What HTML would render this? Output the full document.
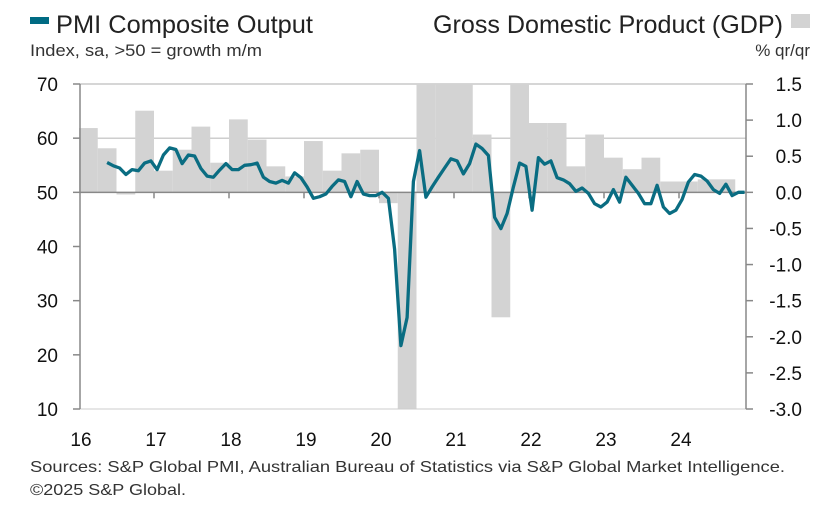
<!DOCTYPE html>
<html><head><meta charset="utf-8">
<style>
body{margin:0;background:#fff;}
svg{display:block;font-family:"Liberation Sans",sans-serif;}
</style></head>
<body>
<svg id="chart" width="818" height="506" viewBox="0 0 818 506">
  <rect x="30" y="17" width="19" height="7" fill="#006b83"/>
  <text x="56" y="33" font-size="25" fill="#222" textLength="257" lengthAdjust="spacingAndGlyphs">PMI Composite Output</text>
  <text x="30" y="56" font-size="17" fill="#333" textLength="232" lengthAdjust="spacingAndGlyphs">Index, sa, &gt;50 = growth m/m</text>
  <text x="433" y="33" font-size="25" fill="#222" textLength="350" lengthAdjust="spacingAndGlyphs">Gross Domestic Product (GDP)</text>
  <rect x="791" y="14" width="19" height="14" fill="#d3d3d3"/>
  <text x="810" y="56" font-size="17" fill="#333" text-anchor="end">% qr/qr</text>
  <g id="plot"></g>
  <text x="30" y="472" font-size="16" fill="#333" textLength="755" lengthAdjust="spacingAndGlyphs">Sources: S&amp;P Global PMI, Australian Bureau of Statistics via S&amp;P Global Market Intelligence.</text>
  <text x="30" y="495" font-size="16" fill="#333" textLength="156" lengthAdjust="spacingAndGlyphs">©2025 S&amp;P Global.</text>
</svg>
<script>
const yearLabels = ["16","17","18","19","20","21","22","23","24"];
const leftTicks = [70,60,50,40,30,20,10];
const rightTicks = ["1.5","1.0","0.5","0.0","-0.5","-1.0","-1.5","-2.0","-2.5","-3.0"];
// GDP quarterly q/q %, Q1 2016 .. Q3 2024
const gdpValues = [0.89,0.61,-0.03,1.13, 0.30,0.59,0.91,0.41, 1.01,0.73,0.36,0.22, 0.71,0.30,0.54,0.59,
  -0.15,-7.0,3.4,3.2, 1.9,0.80,-1.73,3.6, 0.96,0.96,0.36,0.80, 0.48,0.32,0.48,0.15, 0.15,0.18,0.18];
// PMI monthly, May 2016 .. Nov 2024
const pmiValues = [55.5,54.9,54.5,53.3,54.2,54.0,55.4,55.8,54.2,56.9,58.2,57.9,55.3,56.9,56.7,54.4,53.0,52.8,54.1,55.3,
  54.2,54.2,55.0,55.1,55.4,52.8,52.0,51.7,52.2,51.7,53.6,52.7,51.0,48.9,49.2,49.7,51.1,52.3,52.0,49.2,
  52.0,49.7,49.4,49.4,50.0,48.9,39.5,21.7,26.9,52.0,57.7,49.1,51.0,52.8,54.5,56.2,55.8,53.4,55.3,58.9,
  58.1,56.8,45.4,43.3,46.1,51.0,55.4,54.8,46.7,56.4,55.2,55.8,52.7,52.3,51.6,50.2,50.8,49.8,47.9,47.3,
  48.2,50.5,48.2,52.8,51.3,49.8,47.9,47.9,51.3,47.3,46.1,46.7,48.7,51.9,53.3,53.0,52.1,50.5,49.8,51.5,
  49.4,50.0,50.0];
const NS="http://www.w3.org/2000/svg";
const plot=document.getElementById('plot');
const X0=79, PX_YEAR=75, LEFT=80, RIGHT=746, TOP=84, BOT=409;
const xYear=t=>X0+t*PX_YEAR;
const yL=v=>TOP+(70-v)*(BOT-TOP)/60;
const yR=v=>TOP+(1.5-v)*(BOT-TOP)/4.5;
function mk(tag,attrs){const e=document.createElementNS(NS,tag);for(const k in attrs)e.setAttribute(k,attrs[k]);plot.appendChild(e);return e;}
[70,60].forEach(v=>{
  const g=mk('line',{x1:LEFT,x2:RIGHT,y1:yL(v),y2:yL(v),stroke:'#bdbdbd','stroke-width':1.2});
  
  
});
gdpValues.forEach((v,i)=>{
  const x=xYear(i/4), w=PX_YEAR/4;
  const vc=Math.max(-3,Math.min(1.5,v));
  const y1=yR(Math.max(0,vc)), y2=yR(Math.min(0,vc));
  const r=mk('rect',{x:x,y:y1,width:w,height:Math.max(0.5,y2-y1),fill:'#d3d3d3'});
  
  
});
const z=mk('line',{x1:LEFT,x2:RIGHT,y1:yL(50),y2:yL(50),stroke:'#888','stroke-width':1.5});


const bl=mk('line',{x1:LEFT,x2:RIGHT,y1:BOT,y2:BOT,stroke:'#ccc','stroke-width':1});


for(let i=1;i<yearLabels.length;i++){
  const t=mk('line',{x1:xYear(i),x2:xYear(i),y1:yL(50),y2:yL(50)+6,stroke:'#888','stroke-width':1.5});
  
  
}
yearLabels.forEach((s,i)=>{
  const t=mk('text',{x:xYear(i)+2,y:446,'font-size':19,fill:'#111','text-anchor':'middle'});
  t.textContent=s;
  
  
});
const la=mk('line',{x1:LEFT,x2:LEFT,y1:TOP,y2:BOT,stroke:'#888','stroke-width':1.5});


leftTicks.forEach(v=>{
  const tk=mk('line',{x1:LEFT-7,x2:LEFT,y1:yL(v),y2:yL(v),stroke:'#888','stroke-width':1.5});
  
  
  const t=mk('text',{x:58,y:yL(v)+7,'font-size':19,fill:'#111','text-anchor':'end'});
  t.textContent=v;
  
  
});
const ra=mk('line',{x1:RIGHT,x2:RIGHT,y1:TOP,y2:BOT,stroke:'#888','stroke-width':1.5});


rightTicks.forEach(s=>{
  const v=parseFloat(s);
  const tk=mk('line',{x1:RIGHT,x2:RIGHT+7,y1:yR(v),y2:yR(v),stroke:'#888','stroke-width':1.5});
  
  
  const t=mk('text',{x:802,y:yR(v)+7,'font-size':19,fill:'#111','text-anchor':'end'});
  t.textContent=s;
  
  
});
const pts=pmiValues.map((v,k)=>{const x=xYear((4+k+0.5)/12);return x.toFixed(1)+','+yL(v).toFixed(1);}).join(' ');
const pl=mk('polyline',{points:pts,fill:'none',stroke:'#0a6d82','stroke-width':3.3,'stroke-linejoin':'round'});


</script>
</body></html>
